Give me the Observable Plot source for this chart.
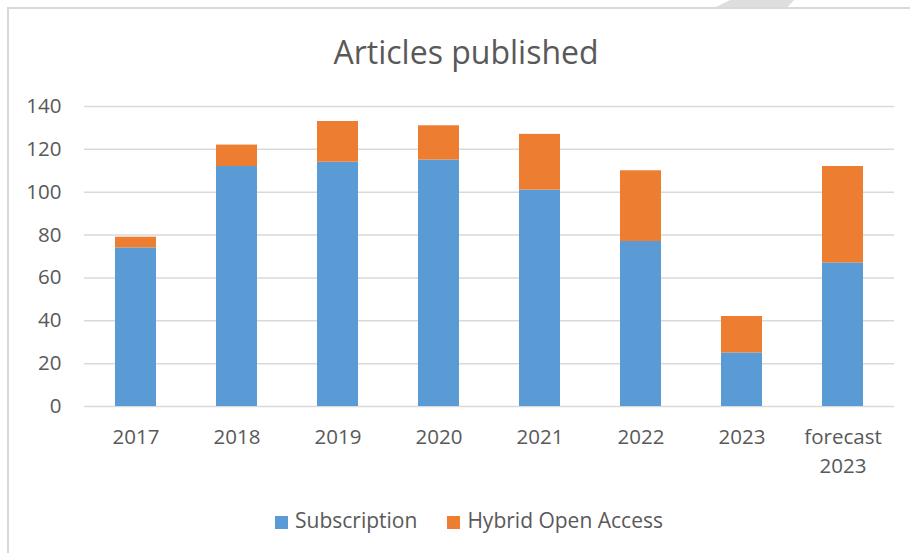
<!DOCTYPE html>
<html>
<head>
<meta charset="utf-8">
<script src="https://cdn.jsdelivr.net/npm/d3@7"></script>
<script src="https://cdn.jsdelivr.net/npm/@observablehq/plot@0.6"></script>
<style>
  html, body { margin: 0; padding: 0; background: #fff; width: 910px; height: 553px; overflow: hidden; }
  body { position: relative; font-family: "Open Sans", sans-serif; color: #595959; }
  #frame { position: absolute; left: 7px; top: 7px; width: 1000px; height: 600px;
           border-left: 2px solid #d9d9d9; border-top: 2px solid #d9d9d9; }
  #deco { position: absolute; left: 716px; top: 0; width: 78px; height: 7px; background: #dedede;
          clip-path: polygon(18% 0, 100% 0, 92% 100%, 0 100%); }
  #title { position: absolute; left: 0; top: 31px; width: 932px; text-align: center;
           font-size: 32px; line-height: 42px; color: #595959; }
  #chart { position: absolute; left: 0; top: 0; }
  #legend { position: absolute; left: 0; top: 505px; width: 938px; text-align: center;
            font-size: 21px; line-height: 30px; white-space: nowrap; }
  .item { display: inline-block; margin: 0 15px; }
  .sw { display: inline-block; width: 13px; height: 13px; margin-right: 7px; vertical-align: -1px; }
</style>
</head>
<body>
<div id="frame"></div>
<div id="deco"></div>
<div id="title">Articles published</div>
<div id="chart"></div>
<div id="legend"></div>
<script>
const categories = ["2017", "2018", "2019", "2020", "2021", "2022", "2023", "forecast 2023"];
const tickLabels = ["2017", "2018", "2019", "2020", "2021", "2022", "2023", "forecast\n2023"];
const seriesNames = ["Subscription", "Hybrid Open Access"];
const subscription = [74, 112, 114, 115, 101, 77, 25, 67];
const hybridOpenAccess = [5, 10, 19, 16, 26, 33, 17, 45];
const colors = ["#5B9BD5", "#ED7D31"];
const yTicks = [0, 20, 40, 60, 80, 100, 120, 140];

const seriesValues = [subscription, hybridOpenAccess];
const data = [];
seriesNames.forEach((s, si) => {
  categories.forEach((c, ci) => data.push({category: c, series: s, value: seriesValues[si][ci]}));
});

const labelOf = new Map(categories.map((c, i) => [c, tickLabels[i]]));

const chart = Plot.plot({
  width: 910,
  height: 490,
  marginLeft: 84,
  marginRight: 16,
  marginTop: 106,
  marginBottom: 84,
  style: {fontFamily: "'Open Sans', sans-serif", fontSize: "20px", color: "#595959", background: "transparent"},
  x: {domain: categories, padding: 0, label: null},
  y: {domain: [0, 140], label: null},
  color: {domain: seriesNames, range: colors},
  marks: [
    Plot.ruleY(yTicks, {stroke: "#d9d9d9", strokeWidth: 1.5}),
    Plot.barY(data, Plot.stackY({
      x: "category", y: "value", fill: "series", order: seriesNames,
      insetLeft: 30, insetRight: 30
    })),
    Plot.axisY({ticks: yTicks, tickSize: 0, tickPadding: 23, fill: "#595959", fontSize: 20.5, label: null}),
    Plot.axisX({tickSize: 0, tickPadding: 17, fill: "#595959", fontSize: 20.5, lineHeight: 1.42,
                tickFormat: d => labelOf.get(d), label: null})
  ]
});
document.getElementById("chart").appendChild(chart);

const legend = document.getElementById("legend");
seriesNames.forEach((s, i) => {
  const item = document.createElement("span");
  item.className = "item";
  const sw = document.createElement("span");
  sw.className = "sw";
  sw.style.background = colors[i];
  item.appendChild(sw);
  item.appendChild(document.createTextNode(s));
  legend.appendChild(item);
});
</script>
</body>
</html>
